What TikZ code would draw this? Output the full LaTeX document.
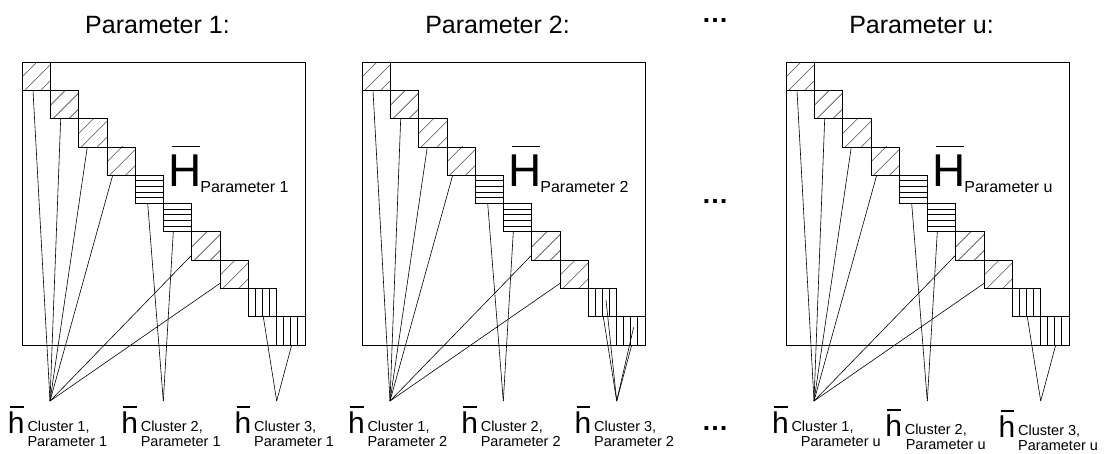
\documentclass[tikz,border=0pt]{standalone}
\usepackage{fontspec}
\setmainfont{Liberation Sans}
\usetikzlibrary{calc}
\def\bs{28.3}
\newcommand\Tfont{\fontsize{25}{30}\selectfont}
\newcommand\Dfont{\fontsize{27}{32}\selectfont\bfseries}
\newcommand\Hfont{\fontsize{46}{50}\selectfont}
\newcommand\Sfont{\fontsize{16}{19}\selectfont}
\newcommand\hfont{\fontsize{30}{36}\selectfont}
\newcommand\cfont{\fontsize{14.5}{17}\selectfont}
\tikzset{
  frame/.style={draw=black,line width=0.8pt},
  blkbox/.style={draw=black,line width=0.8pt},
  hatch/.style={draw=black!70,line width=0.6pt},
  strip/.style={draw=black,line width=0.9pt},
  conn/.style={draw=black,line width=0.6pt},
  barline/.style={draw=black,line width=1.3pt},
  txt/.style={inner sep=0pt,outer sep=0pt,anchor=base west},
}
% #1 x0, #2 prefix, #3 parameter text
\newcommand\drawpanel[3]{%
\begin{scope}[shift={(#1,62)}]
  \draw[frame] (0,0) rectangle (283,283);
  \foreach \i in {0,1,2,3,6,7}{
    \begin{scope}
      \clip ({\i*\bs},{\i*\bs}) rectangle ++(\bs,\bs);
      \foreach \k in {15,31,47}
        \draw[hatch] ({\i*\bs-5},{\i*\bs+\k+5}) -- ++({\k+10},{-\k-10});
    \end{scope}
    \draw[blkbox] ({\i*\bs},{\i*\bs}) rectangle ++(\bs,\bs);}
  \foreach \i in {4,5}{
    \foreach \j in {1,2,3,4}
      \draw[strip] ({\i*\bs},{\i*\bs+\j*\bs/5}) -- ++(\bs,0);
    \draw[blkbox] ({\i*\bs},{\i*\bs}) rectangle ++(\bs,\bs);}
  \foreach \i in {8,9}{
    \foreach \j in {1,2,3}
      \draw[strip] ({\i*\bs+\j*\bs/4},{\i*\bs}) -- ++(0,\bs);
    \draw[blkbox] ({\i*\bs},{\i*\bs}) rectangle ++(\bs,\bs);}
  % connector end points
  \coordinate (#2c1) at (28,339);
  \coordinate (#2c2) at (141.3,339);
  \coordinate (#2c3) at (254.7,339);
  \coordinate (#2s0) at (11,28.3);
  \coordinate (#2s1) at (38.7,56.6);
  \coordinate (#2s2) at (65.3,84.9);
  \coordinate (#2s3) at (90.7,113.2);
  \coordinate (#2s4) at (125.7,141.5);
  \coordinate (#2s5) at (151.3,169.8);
  \coordinate (#2s6) at (169.8,193);
  \coordinate (#2s7) at (198.1,221.3);
  \coordinate (#2s8) at (241.3,254.7);
  \coordinate (#2s9) at (269.7,283);
  \foreach \n in {0,1,2,3,6,7} \draw[conn] (#2s\n) -- (#2c1);
  \foreach \n in {4,5} \draw[conn] (#2s\n) -- (#2c2);
  \foreach \n in {8,9} \draw[conn] (#2s\n) -- (#2c3);
  % matrix label
  \node[txt,font=\Hfont] (#2H) at (146,124.7) {H};
  \draw[barline] ([xshift=3.6pt,yshift=40pt]#2H.base west) -- ([xshift=31.6pt,yshift=40pt]#2H.base west);
  \node[txt,font=\Sfont] (#2Hs) at (178.4,130.3) {Parameter #3};
  % title
  \node[inner sep=0pt,anchor=base,font=\Tfont] (#2T) at (135.5,-29) {Parameter #3:};
\end{scope}}
% #1 prefix, #2 cluster no., #3 x of convergence (rel), #4 dy, #5 dx of line 2, #6 param text, #7 x0
\newcommand\clabel[7]{%
\begin{scope}[shift={(#7,62)}]
  \node[txt,font=\hfont] (#1h#2) at ({#3-42},{371+#4}) {h};
  \draw[barline] ([xshift=2pt,yshift=26pt]#1h#2.base west) -- ([xshift=15.5pt,yshift=26pt]#1h#2.base west);
  \node[txt,font=\cfont] (#1l#2a) at ({#3-22.5},{369+#4}) {Cluster #2,};
  \node[txt,font=\cfont] (#1l#2b) at ({#3-22.5+#5},{384.7+#4}) {Parameter #6};
\end{scope}}
\begin{document}
\begin{tikzpicture}[x=1pt,y=-1pt]
\useasboundingbox (0,0) rectangle (1106,453);
\drawpanel{22}{pa}{1}
\drawpanel{362}{pb}{2}
\drawpanel{786}{pu}{u}
% extra connectors in panel 2
\coordinate (pbe8) at (362+244,62+238);
\coordinate (pbe9) at (362+271.6,62+265.3);
\draw[conn] (pbe8) -- (pbc3);
\draw[conn] (pbe9) -- (pbc3);
% cluster labels
\clabel{pa}{1}{28}{0}{0}{1}{22}
\clabel{pa}{2}{141.3}{0}{0}{1}{22}
\clabel{pa}{3}{254.7}{0}{0}{1}{22}
\clabel{pb}{1}{28}{0}{0}{2}{362}
\clabel{pb}{2}{141.3}{0}{0}{2}{362}
\clabel{pb}{3}{254.7}{0}{0}{2}{362}
\clabel{pu}{1}{28}{0}{9.4}{u}{786}
\clabel{pu}{2}{141.3}{3}{1}{u}{786}
\clabel{pu}{3}{254.7}{4}{0}{u}{786}
% ellipses
\node[inner sep=0pt,anchor=base,font=\Dfont] (dtop) at (715,22.3) {…};
\node[inner sep=0pt,anchor=base,font=\Dfont] (dmid) at (715,203.3) {…};
\node[inner sep=0pt,anchor=base,font=\Dfont] (dbot) at (715,430) {…};
\end{tikzpicture}
\end{document}
